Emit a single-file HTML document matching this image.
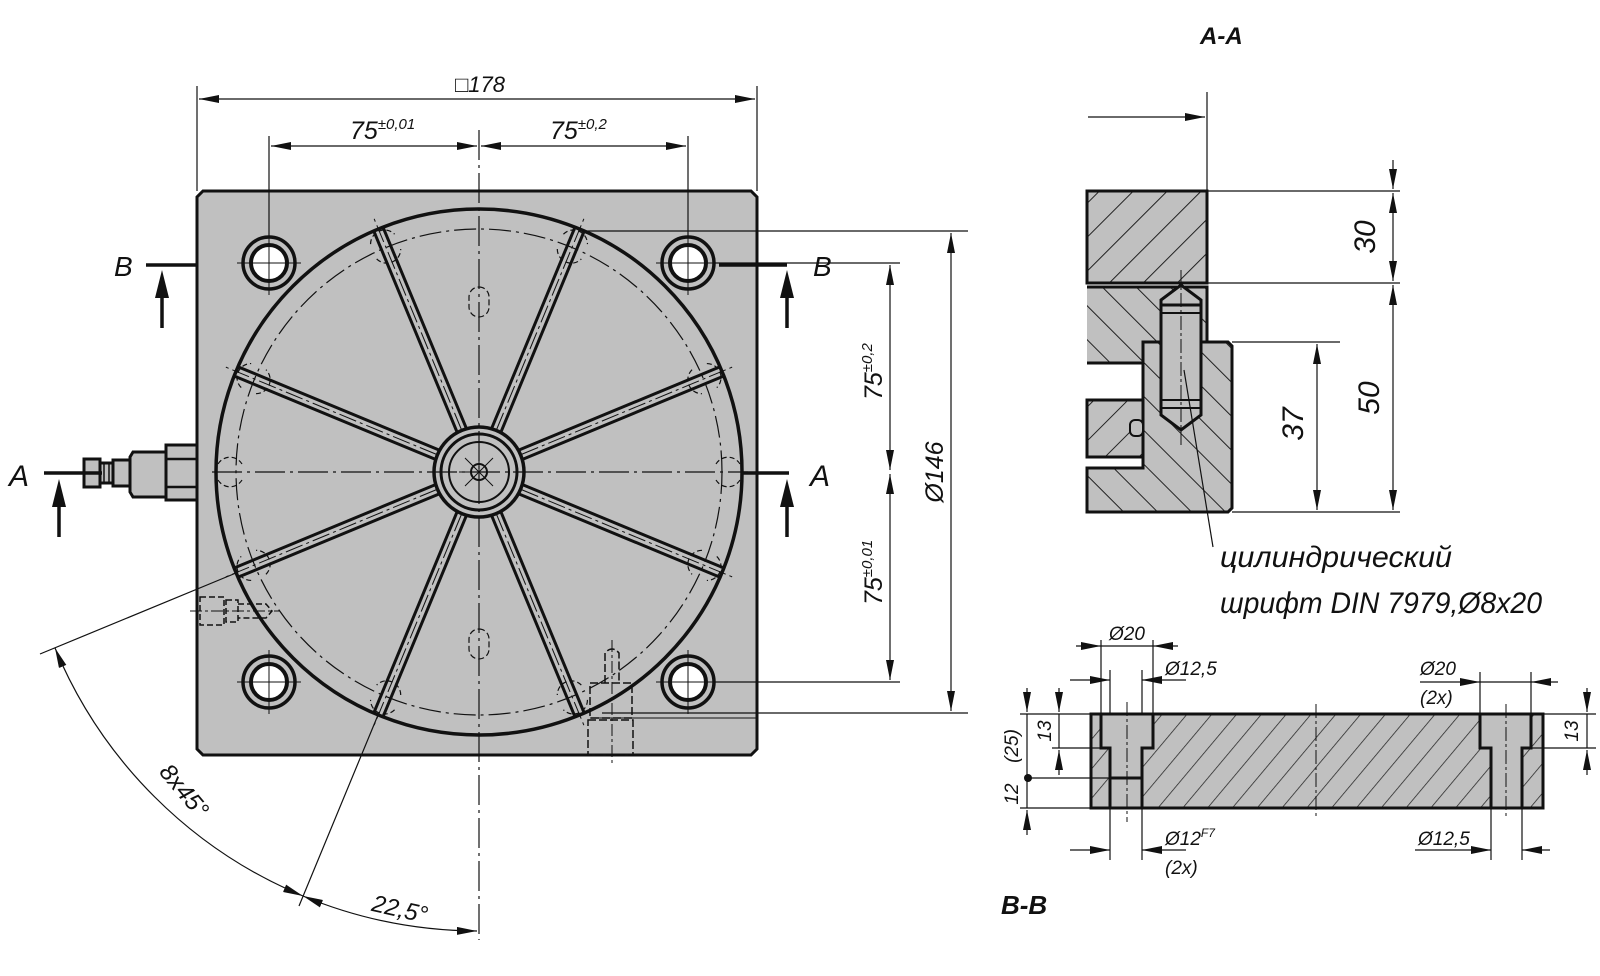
<!DOCTYPE html>
<html><head><meta charset="utf-8"><style>
html,body{margin:0;padding:0;background:#fff}
svg{display:block}
text{font-family:"Liberation Sans",sans-serif;font-style:italic;fill:#111}
</style></head><body>
<svg width="1600" height="976" viewBox="0 0 1600 976" xmlns="http://www.w3.org/2000/svg">
<defs>
<pattern id="h1" patternUnits="userSpaceOnUse" width="24" height="24" patternTransform="rotate(45)">
<rect width="24" height="24" fill="#c0c0c0"/><line x1="0" y1="0" x2="0" y2="24" stroke="#222" stroke-width="2"/></pattern>
<pattern id="h2" patternUnits="userSpaceOnUse" width="24" height="24" patternTransform="rotate(-45)">
<rect width="24" height="24" fill="#c0c0c0"/><line x1="0" y1="0" x2="0" y2="24" stroke="#222" stroke-width="2"/></pattern>
<pattern id="h3" patternUnits="userSpaceOnUse" width="19" height="19" patternTransform="rotate(40)">
<rect width="19" height="19" fill="#c0c0c0"/><line x1="0" y1="0" x2="0" y2="19" stroke="#222" stroke-width="1.5"/></pattern>
<marker id="ar" viewBox="0 0 20 8" refX="20" refY="4" markerWidth="20" markerHeight="8" markerUnits="userSpaceOnUse" orient="auto-start-reverse"><path d="M0,0 L20,4 L0,8 z" fill="#111"/></marker>
<g id="spoke">
<line x1="474" y1="426" x2="474" y2="208" stroke="#111" stroke-width="3"/>
<line x1="484" y1="426" x2="484" y2="208" stroke="#111" stroke-width="3"/>
<line x1="479" y1="426" x2="479" y2="195" stroke="#111" stroke-width="1" stroke-dasharray="18,4,3,4"/>
<path d="M466,220 A14,14 0 0 1 492,220 M466,236 A14,14 0 0 0 492,236" fill="none" stroke="#111" stroke-width="1.2" stroke-dasharray="5,3"/>
</g>
<g id="hole">
<circle r="26" fill="none" stroke="#111" stroke-width="3.5"/>
<circle r="18" fill="#fff" stroke="#111" stroke-width="4"/>
<line x1="-32" y1="0" x2="32" y2="0" stroke="#111" stroke-width="1"/>
<line x1="0" y1="-32" x2="0" y2="32" stroke="#111" stroke-width="1"/>
</g>
</defs>

<path d="M203,191 L751,191 L757,197 L757,749 L751,755 L203,755 L197,749 L197,197 Z" fill="#c0c0c0" stroke="#111" stroke-width="3"/>
<circle cx="479" cy="472" r="263" fill="none" stroke="#111" stroke-width="3.5"/>
<circle cx="479" cy="472" r="243" fill="none" stroke="#111" stroke-width="1.2" stroke-dasharray="22,5,3,5"/>
<g>
<use href="#spoke" transform="rotate(22.5 479 472)"/>
<use href="#spoke" transform="rotate(67.5 479 472)"/>
<use href="#spoke" transform="rotate(112.5 479 472)"/>
<use href="#spoke" transform="rotate(157.5 479 472)"/>
<use href="#spoke" transform="rotate(202.5 479 472)"/>
<use href="#spoke" transform="rotate(247.5 479 472)"/>
<use href="#spoke" transform="rotate(292.5 479 472)"/>
<use href="#spoke" transform="rotate(337.5 479 472)"/>
</g>
<circle cx="479" cy="472" r="45" fill="#c0c0c0" stroke="#111" stroke-width="3.5"/>
<circle cx="479" cy="472" r="38" fill="none" stroke="#111" stroke-width="3"/>
<circle cx="479" cy="472" r="30" fill="none" stroke="#111" stroke-width="2"/>
<circle cx="479" cy="472" r="8" fill="none" stroke="#111" stroke-width="2"/>
<path d="M459,472 L499,472 M479,452 L479,492 M465,458 L493,486 M465,486 L493,458" stroke="#111" stroke-width="1"/>
<path d="M230,472 m-12,-8 a14,14 0 0 1 24,0 M230,472 m-12,8 a14,14 0 0 0 24,0" fill="none" stroke="#111" stroke-width="1.2" stroke-dasharray="5,3"/>
<path d="M728,472 m-12,-8 a14,14 0 0 1 24,0 M728,472 m-12,8 a14,14 0 0 0 24,0" fill="none" stroke="#111" stroke-width="1.2" stroke-dasharray="5,3"/>
<rect x="469" y="287" width="20" height="30" rx="10" fill="none" stroke="#111" stroke-width="1.2" stroke-dasharray="6,3"/>
<rect x="469" y="629" width="20" height="30" rx="10" fill="none" stroke="#111" stroke-width="1.2" stroke-dasharray="6,3"/>
<line x1="479" y1="130" x2="479" y2="940" stroke="#111" stroke-width="1.2" stroke-dasharray="30,5,3,5"/>
<line x1="212" y1="472" x2="748" y2="472" stroke="#111" stroke-width="1.2" stroke-dasharray="30,5,3,5"/>
<use href="#hole" transform="translate(269,263)"/>
<use href="#hole" transform="translate(688,263)"/>
<use href="#hole" transform="translate(269,682)"/>
<use href="#hole" transform="translate(688,682)"/>
<g fill="none" stroke="#111" stroke-width="1.5" stroke-dasharray="6,3">
<rect x="200" y="597" width="24" height="28"/>
<rect x="226" y="600" width="12" height="22"/>
<path d="M238,604 L266,604 L272,611 L266,618 L238,618"/>
</g>
<line x1="190" y1="611" x2="280" y2="611" stroke="#111" stroke-width="1" stroke-dasharray="12,3,3,3"/>
<g fill="none" stroke="#111" stroke-width="1.5" stroke-dasharray="8,3">
<path d="M605,683 L605,653 Q612,645 619,653 L619,683"/>
<rect x="590" y="683" width="42" height="35"/>
<rect x="588" y="720" width="45" height="35"/>
</g>
<line x1="612" y1="640" x2="612" y2="765" stroke="#111" stroke-width="1" stroke-dasharray="12,3,3,3"/>
<line x1="590" y1="718" x2="757" y2="718" stroke="#111" stroke-width="1"/>
<g fill="#c0c0c0" stroke="#111" stroke-width="3">
<rect x="166" y="445" width="31" height="55"/>
<path d="M133,452 L166,452 L166,497 L133,497 L130,492 L130,457 Z"/>
<rect x="113" y="460" width="17" height="26"/>
<rect x="100" y="463" width="13" height="20"/>
<rect x="84" y="459" width="16" height="28"/>
</g>
<line x1="166" y1="459" x2="197" y2="459" stroke="#111" stroke-width="2.5"/>
<line x1="166" y1="487" x2="197" y2="487" stroke="#111" stroke-width="2.5"/>
<line x1="104" y1="463" x2="104" y2="483" stroke="#111" stroke-width="1.5"/>
<line x1="109" y1="463" x2="109" y2="483" stroke="#111" stroke-width="1.5"/>

<g stroke="#111" stroke-width="1.2" fill="none">
<line x1="197" y1="86" x2="197" y2="191"/>
<line x1="757" y1="86" x2="757" y2="191"/>
<line x1="199" y1="99" x2="755" y2="99" marker-start="url(#ar)" marker-end="url(#ar)"/>
<line x1="269" y1="136" x2="269" y2="237"/>
<line x1="688" y1="136" x2="688" y2="237"/>
<line x1="271" y1="146" x2="477" y2="146" marker-start="url(#ar)" marker-end="url(#ar)"/>
<line x1="481" y1="146" x2="686" y2="146" marker-start="url(#ar)" marker-end="url(#ar)"/>
<line x1="583" y1="231" x2="968" y2="231"/>
<line x1="602" y1="713" x2="968" y2="713"/>
<line x1="951" y1="233" x2="951" y2="711" marker-start="url(#ar)" marker-end="url(#ar)"/>
<line x1="714" y1="263" x2="900" y2="263"/>
<line x1="714" y1="682" x2="900" y2="682"/>
<line x1="890" y1="265" x2="890" y2="470" marker-start="url(#ar)" marker-end="url(#ar)"/>
<line x1="890" y1="474" x2="890" y2="680" marker-start="url(#ar)" marker-end="url(#ar)"/>
</g>
<text x="480" y="92" font-size="22" text-anchor="middle">□178</text>
<text x="350" y="139" font-size="25">75<tspan font-size="15" dy="-10">±0,01</tspan></text>
<text x="550" y="139" font-size="25">75<tspan font-size="15" dy="-10">±0,2</tspan></text>
<text transform="translate(882,400) rotate(-90)" font-size="25">75<tspan font-size="15" dy="-10">±0,2</tspan></text>
<text transform="translate(882,605) rotate(-90)" font-size="25">75<tspan font-size="15" dy="-10">±0,01</tspan></text>
<text transform="translate(943,472) rotate(-90)" font-size="25" text-anchor="middle">Ø146</text>

<g stroke="#111" stroke-width="3.5" fill="none">
<line x1="146" y1="265" x2="196" y2="265"/>
<line x1="719" y1="265" x2="787" y2="265"/>
<line x1="44" y1="473" x2="102" y2="473"/>
<line x1="742" y1="473" x2="789" y2="473"/>
<line x1="162" y1="328" x2="162" y2="296"/>
<line x1="787" y1="328" x2="787" y2="296"/>
<line x1="59" y1="537" x2="59" y2="505"/>
<line x1="787" y1="537" x2="787" y2="505"/>
</g>
<g fill="#111">
<path d="M162,270 L155,298 L169,298 Z"/>
<path d="M787,270 L780,298 L794,298 Z"/>
<path d="M59,479 L52,507 L66,507 Z"/>
<path d="M787,479 L780,507 L794,507 Z"/>
</g>
<text x="114" y="276" font-size="28">B</text>
<text x="813" y="276" font-size="28">B</text>
<text x="9" y="486" font-size="30">A</text>
<text x="810" y="486" font-size="30">A</text>

<g stroke="#111" stroke-width="1.2" fill="none">
<line x1="236" y1="573" x2="40" y2="654"/>
<line x1="378" y1="715" x2="299" y2="906"/>
<path d="M55,648 A459,459 0 0 0 303,896" marker-start="url(#ar)" marker-end="url(#ar)"/>
<path d="M303,896 A459,459 0 0 0 477,931" marker-start="url(#ar)" marker-end="url(#ar)"/>
</g>
<text transform="translate(178,796) rotate(50)" font-size="24" text-anchor="middle">8x45°</text>
<text transform="translate(398,917) rotate(13)" font-size="24" text-anchor="middle">22,5°</text>

<text x="1200" y="44" font-size="24" font-weight="bold">A-A</text>
<g stroke="#111" stroke-width="1.2" fill="none">
<line x1="1088" y1="117" x2="1205" y2="117" marker-end="url(#ar)"/>
<line x1="1207" y1="92" x2="1207" y2="191"/>
<line x1="1207" y1="191" x2="1400" y2="191"/>
<line x1="1207" y1="283" x2="1400" y2="283"/>
<line x1="1232" y1="342" x2="1340" y2="342"/>
<line x1="1232" y1="512" x2="1400" y2="512"/>
<line x1="1393" y1="160" x2="1393" y2="189" marker-end="url(#ar)"/>
<line x1="1393" y1="193" x2="1393" y2="281" marker-start="url(#ar)" marker-end="url(#ar)"/>
<line x1="1393" y1="285" x2="1393" y2="510" marker-start="url(#ar)" marker-end="url(#ar)"/>
<line x1="1317" y1="344" x2="1317" y2="510" marker-start="url(#ar)" marker-end="url(#ar)"/>
</g>
<rect x="1087" y="191" width="120" height="92" fill="url(#h1)" stroke="#111" stroke-width="3"/>
<path d="M1087,287 L1207,287 L1207,342 L1143,342 L1143,363 L1087,363" fill="url(#h2)" stroke="#111" stroke-width="3"/>
<rect x="1087" y="400" width="56" height="57" fill="url(#h1)" stroke="#111" stroke-width="3"/>
<path d="M1143,342 L1228,342 L1232,346 L1232,508 L1228,512 L1087,512 L1087,468 L1143,468 Z" fill="url(#h2)" stroke="#111" stroke-width="3"/>
<rect x="1130" y="420" width="13" height="16" rx="5" fill="#c0c0c0" stroke="#111" stroke-width="2"/>
<path d="M1161,300 L1181,285 L1201,300 L1201,415 L1181,430 L1161,415 Z" fill="#c0c0c0" stroke="#111" stroke-width="3"/>
<line x1="1161" y1="305" x2="1201" y2="305" stroke="#111" stroke-width="3"/>
<line x1="1161" y1="313" x2="1201" y2="313" stroke="#111" stroke-width="2"/>
<line x1="1161" y1="400" x2="1201" y2="400" stroke="#111" stroke-width="2"/>
<line x1="1161" y1="408" x2="1201" y2="408" stroke="#111" stroke-width="2"/>
<line x1="1181" y1="270" x2="1181" y2="445" stroke="#111" stroke-width="1" stroke-dasharray="14,3,3,3"/>
<line x1="1184" y1="370" x2="1213" y2="547" stroke="#111" stroke-width="1.2"/>
<text transform="translate(1375,237) rotate(-90)" font-size="30" text-anchor="middle">30</text>
<text transform="translate(1379,398) rotate(-90)" font-size="30" text-anchor="middle">50</text>
<text transform="translate(1303,424) rotate(-90)" font-size="30" text-anchor="middle">37</text>
<text x="1220" y="567" font-size="30" textLength="232" lengthAdjust="spacingAndGlyphs">цилиндрический</text>
<text x="1220" y="613" font-size="30" textLength="322" lengthAdjust="spacingAndGlyphs">шрифт DIN 7979,Ø8x20</text>

<path d="M1091,714 L1543,714 L1543,808 L1091,808 Z" fill="url(#h3)" stroke="#111" stroke-width="3"/>
<path d="M1101,714 L1153,714 L1153,748 L1142,748 L1142,808 L1110,808 L1110,748 L1101,748 Z" fill="#c0c0c0" stroke="#111" stroke-width="3"/>
<line x1="1110" y1="778" x2="1142" y2="778" stroke="#111" stroke-width="3"/>
<path d="M1480,714 L1531,714 L1531,748 L1522,748 L1522,808 L1491,808 L1491,748 L1480,748 Z" fill="#c0c0c0" stroke="#111" stroke-width="3"/>
<g stroke="#111" stroke-width="1" stroke-dasharray="14,3,3,3">
<line x1="1127" y1="702" x2="1127" y2="822"/>
<line x1="1316" y1="704" x2="1316" y2="818"/>
<line x1="1506" y1="704" x2="1506" y2="818"/>
</g>
<g stroke="#111" stroke-width="1.2" fill="none">
<line x1="1101" y1="640" x2="1101" y2="714"/>
<line x1="1153" y1="640" x2="1153" y2="714"/>
<line x1="1076" y1="646" x2="1101" y2="646" marker-end="url(#ar)"/>
<line x1="1178" y1="646" x2="1153" y2="646" marker-end="url(#ar)"/>
<line x1="1101" y1="646" x2="1153" y2="646"/>
<line x1="1110" y1="670" x2="1110" y2="714"/>
<line x1="1142" y1="670" x2="1142" y2="714"/>
<line x1="1070" y1="680" x2="1110" y2="680" marker-end="url(#ar)"/>
<line x1="1186" y1="680" x2="1142" y2="680" marker-end="url(#ar)"/>
<line x1="1110" y1="808" x2="1110" y2="860"/>
<line x1="1142" y1="808" x2="1142" y2="860"/>
<line x1="1070" y1="850" x2="1110" y2="850" marker-end="url(#ar)"/>
<line x1="1186" y1="850" x2="1142" y2="850" marker-end="url(#ar)"/>
<line x1="1480" y1="672" x2="1480" y2="714"/>
<line x1="1531" y1="672" x2="1531" y2="714"/>
<line x1="1420" y1="682" x2="1480" y2="682" marker-end="url(#ar)"/>
<line x1="1558" y1="682" x2="1531" y2="682" marker-end="url(#ar)"/>
<line x1="1480" y1="682" x2="1531" y2="682"/>
<line x1="1491" y1="808" x2="1491" y2="860"/>
<line x1="1522" y1="808" x2="1522" y2="860"/>
<line x1="1415" y1="850" x2="1491" y2="850" marker-end="url(#ar)"/>
<line x1="1550" y1="850" x2="1522" y2="850" marker-end="url(#ar)"/>
<line x1="1543" y1="714" x2="1596" y2="714"/>
<line x1="1531" y1="748" x2="1596" y2="748"/>
<line x1="1587" y1="688" x2="1587" y2="712" marker-end="url(#ar)"/>
<line x1="1587" y1="775" x2="1587" y2="750" marker-end="url(#ar)"/>
<line x1="1587" y1="714" x2="1587" y2="748"/>
<line x1="1020" y1="714" x2="1091" y2="714"/>
<line x1="1020" y1="808" x2="1091" y2="808"/>
<line x1="1052" y1="748" x2="1101" y2="748"/>
<line x1="1027" y1="778" x2="1110" y2="778"/>
<line x1="1027" y1="688" x2="1027" y2="712" marker-end="url(#ar)"/>
<line x1="1027" y1="714" x2="1027" y2="808"/>
<line x1="1027" y1="835" x2="1027" y2="810" marker-end="url(#ar)"/>
<line x1="1059" y1="688" x2="1059" y2="712" marker-end="url(#ar)"/>
<line x1="1059" y1="714" x2="1059" y2="748"/>
<line x1="1059" y1="775" x2="1059" y2="750" marker-end="url(#ar)"/>
</g>
<circle cx="1028" cy="778" r="4" fill="#111"/>
<text x="1127" y="640" font-size="19" text-anchor="middle">Ø20</text>
<text x="1165" y="675" font-size="19">Ø12,5</text>
<text x="1165" y="845" font-size="19">Ø12<tspan font-size="12" dy="-8">F7</tspan></text>
<text x="1165" y="874" font-size="19">(2x)</text>
<text x="1420" y="675" font-size="19">Ø20</text>
<text x="1420" y="704" font-size="19">(2x)</text>
<text x="1418" y="845" font-size="19">Ø12,5</text>
<text transform="translate(1578,731) rotate(-90)" font-size="19" text-anchor="middle">13</text>
<text transform="translate(1051,731) rotate(-90)" font-size="19" text-anchor="middle">13</text>
<text transform="translate(1018,746) rotate(-90)" font-size="19" text-anchor="middle">(25)</text>
<text transform="translate(1018,794) rotate(-90)" font-size="19" text-anchor="middle">12</text>
<text x="1001" y="914" font-size="26" font-weight="bold">B-B</text>
</svg>
</body></html>
